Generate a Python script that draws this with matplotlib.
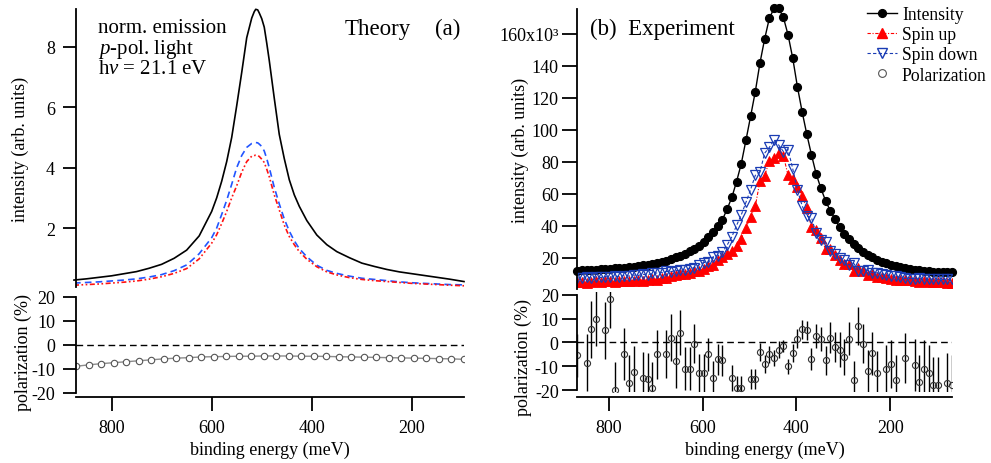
import numpy as np
import matplotlib.pyplot as plt
from matplotlib.lines import Line2D

plt.rcParams['font.family'] = ['Liberation Serif', 'DejaVu Serif']
plt.rcParams['axes.unicode_minus'] = False
plt.rcParams['mathtext.fontset'] = 'custom'
plt.rcParams['mathtext.rm'] = 'Liberation Serif'
plt.rcParams['mathtext.it'] = 'Liberation Serif:italic'

nan = np.nan

# ---- theory (a) ----
theory_energy = [875, 850, 825, 800, 775, 750, 725, 700, 675, 650, 625, 600, 590, 580, 570,
                 560, 550, 540, 530, 520, 515, 512, 508, 505, 500, 495, 490, 485, 475, 465,
                 455, 445, 435, 425, 410, 390, 370, 350, 325, 300, 275, 250, 225, 200,
                 175, 150, 125, 96]
theory_total = [0.28, 0.32, 0.37, 0.42, 0.49, 0.56, 0.67, 0.80, 1.00, 1.27, 1.74, 2.55, 3.00, 3.55, 4.20,
                5.00, 6.05, 7.15, 8.30, 8.95, 9.16, 9.24, 9.22, 9.12, 8.93, 8.65, 8.12, 7.55, 6.30, 5.10,
                4.30, 3.60, 3.10, 2.72, 2.25, 1.77, 1.45, 1.22, 1.02, 0.84, 0.73, 0.63, 0.55, 0.49,
                0.43, 0.37, 0.31, 0.23]
theory_down = [0.18, 0.20, 0.22, 0.25, 0.28, 0.32, 0.38, 0.46, 0.59, 0.78, 1.15, 1.68, 2.00, 2.45, 2.92,
               3.45, 4.00, 4.40, 4.67, 4.80, 4.82, 4.83, 4.82, 4.78, 4.70, 4.55, 4.30, 4.00, 3.35, 2.80,
               2.30, 1.90, 1.58, 1.32, 1.05, 0.77, 0.60, 0.50, 0.41, 0.34, 0.30, 0.26, 0.22, 0.19,
               0.17, 0.15, 0.13, 0.12]
theory_up = [0.11, 0.13, 0.15, 0.18, 0.21, 0.25, 0.31, 0.39, 0.50, 0.66, 0.98, 1.50, 1.78, 2.15, 2.55,
             3.00, 3.40, 3.85, 4.20, 4.38, 4.40, 4.41, 4.40, 4.37, 4.28, 4.17, 3.95, 3.70, 3.10, 2.60,
             2.10, 1.72, 1.45, 1.22, 0.97, 0.72, 0.55, 0.45, 0.36, 0.30, 0.26, 0.23, 0.20, 0.17,
             0.15, 0.13, 0.11, 0.09]

theory_pol_energy = np.arange(871, 95, -25)
theory_pol = [-9.0, -8.4, -7.9, -7.5, -7.1, -6.7, -6.3, -5.9, -5.6, -5.4, -5.1, -5.0, -4.9, -4.8, -4.8, -4.7,
              -4.7, -4.7, -4.8, -4.8, -4.9, -5.0, -5.1, -5.2, -5.3, -5.4, -5.5, -5.6, -5.7, -5.8, -5.9, -6.1]

# ---- experiment (b) ----
exp_energy = np.arange(868, 67, -10)
intensity = [12.1, 12.2, 12.4, 12.5, 12.7, 12.9, 13.1, 13.3, 13.5, 13.8,
             14.0, 14.3, 14.6, 15.0, 15.4, 15.8, 16.3, 16.9, 17.6, 18.4,
             19.4, 20.4, 21.5, 22.7, 24.1, 25.6, 27.7, 30.2, 32.9, 36.0,
             39.8, 44.0, 50.6, 57.9, 67.7, 78.8, 93.5, 108.5, 123.9, 141.9,
             156.9, 169.8, 176.0, 176.0, 170.4, 159.4, 144.8, 126.9, 111.4, 97.3,
             84.4, 72.5, 63.6, 55.8, 49.6, 44.4, 39.2, 35.0, 31.9, 28.8,
             26.0, 23.5, 21.9, 20.4, 18.9, 17.7, 16.7, 15.6, 14.8, 14.2,
             13.6, 13.1, 12.7, 12.3, 11.9, 11.7, 11.5, 11.4, 11.3, 11.2, 11.2]
spin_up = [4.8, 5.2, 4.6, 5.0, 5.4, 4.9, 5.3, 5.6, 5.0, 5.5,
           5.9, 5.4, 5.8, 6.3, 5.9, 6.4, 6.8, 6.5, 7.2, 7.6,
           9.0, 9.4, 10.2, 10.1, 10.7, 12.0, 12.0, 13.1, 15.0, 15.3,
           18.5, 20.4, 22.5, 24.6, 27.4, 31.9, 38.8, 45.8, 52.3, 68.1,
           71.4, 80.7, 82.3, 85.4, 83.9, 71.7, 69.1, 64.4, 58.8, 51.1,
           39.2, 37.2, 32.3, 25.8, 25.3, 21.8, 19.0, 16.5, 16.2, 12.1,
           13.9, 11.7, 9.6, 9.7, 8.2, 7.8, 7.4, 7.1, 6.2, 6.3,
           6.4, 6.0, 5.7, 5.1, 5.3, 5.1, 4.7, 4.7, 4.7, 4.6, 4.6]
spin_down = [7.6, 7.2, 7.9, 7.5, 8.1, 7.8, 8.3, 7.9, 8.6, 8.4,
             9.0, 8.7, 9.3, 9.1, 9.8, 9.5, 10.3, 10.6, 10.8, 11.6,
             11.5, 12.0, 12.3, 12.6, 13.4, 13.9, 15.7, 17.1, 17.3, 20.7,
             21.3, 23.7, 28.1, 33.3, 40.3, 46.9, 54.7, 62.7, 71.6, 73.8,
             85.5, 89.1, 93.7, 90.6, 86.5, 87.7, 75.7, 62.5, 52.6, 46.2,
             45.2, 35.3, 31.3, 30.0, 24.3, 22.6, 20.2, 18.6, 15.7, 16.7,
             12.1, 11.8, 12.3, 10.7, 10.7, 9.9, 9.3, 8.5, 8.6, 7.9,
             7.2, 7.1, 7.0, 7.2, 6.6, 6.6, 6.8, 6.7, 6.6, 6.6, 6.6]
polarization = [-5.5, nan, -8.5, 5.5, 10, nan, 5, 18, -20, nan,
                -5, -17, -12.5, nan, -15, -15.5, -19, -5, nan, -5,
                2, -8, 4, -11, -11, -0.5, -13, -13, -5, -15,
                -7, -7.5, nan, -15, -19, -19, nan, -15.5, -15.5, -4,
                -9, -5, -6.5, -3, -1.5, -10, -4.5, 1.5, 5.5, 5,
                -7, 2.5, 1.5, -7.5, 2, -2, -3, -6, 1.5, -16,
                7, -0.5, -12, -4.5, -13, nan, -11, -9, -16, nan,
                -6.5, nan, -9.5, -16.5, -11, -13, -18, -18, nan, -17, -18]
pol_error = [9, nan, 12, 12, 11.5, nan, 12, 12, 11.6, nan,
             11, 11.5, 11, nan, 11, 11, 10.6, 10.3, nan, 10,
             10, 11, 9.5, 9, 9, 8.3, 8, 8, 7, 7.3,
             6.5, 6.5, nan, 5.5, 5, 5, nan, 4.2, 4.2, 3.8,
             3.8, 3.6, 3.5, 3.5, 2.6, 3.2, 3.8, 4, 4, 4,
             4.5, 5, 5, 6, 6.5, 6.3, 7.3, 7.5, 7, 8,
             8, 8, 9, 9, 9.5, nan, 10, 10, 10.5, nan,
             10.5, nan, 11, 11, 12, 12, 12, 12, nan, 12.5, 12.5]

W, H = 991, 464


def box(x0, y0, x1, y1):
    # pixel box (from top-left) -> figure fraction
    return [x0 / W, 1 - y1 / H, (x1 - x0) / W, (y1 - y0) / H]


def style(ax, bottom=False, offset=0, ylen=10, ypad=4):
    ax.patch.set_visible(False)
    ax.spines['top'].set_visible(False)
    ax.spines['right'].set_visible(False)
    ax.spines['left'].set_linewidth(1.3)
    if bottom:
        ax.spines['bottom'].set_linewidth(1.3)
        ax.spines['bottom'].set_position(('outward', offset))
        ax.tick_params(axis='x', direction='out', length=10, width=1.3, labelsize=13, pad=5.5)
    else:
        ax.spines['bottom'].set_visible(False)
        ax.tick_params(axis='x', bottom=False, labelbottom=False)
    ax.tick_params(axis='y', direction='out', length=ylen, width=1.3, labelsize=13, pad=ypad)


fig = plt.figure(figsize=(9.91, 4.64), dpi=100)
ax_a = fig.add_axes(box(76, 10, 464, 288))
ax_ap = fig.add_axes(box(76, 294.1, 464, 397.3))
ax_b = fig.add_axes(box(577.3, 10, 952, 290))
ax_bp = fig.add_axes(box(577.3, 293.3, 952, 393.4))

# theory intensity
ax_a.plot(theory_energy, theory_total, color='black', lw=1.2, clip_on=False)
ax_a.plot(theory_energy, theory_down, color='#2255ff', lw=1.2, dashes=(4, 2.5))
ax_a.plot(theory_energy, theory_up, color='#ff1111', lw=1.2, dashes=(3, 1.5, 1, 1.5, 1, 1.5))
ax_a.set_xlim(871, 96)
ax_a.set_ylim(0.05, 9.25)
ax_a.set_yticks([2, 4, 6, 8])
style(ax_a, ylen=9.6, ypad=5.5)
fig.text(98 / W, 1 - 33 / H, 'norm. emission', fontsize=15, va='baseline')
fig.text(98 / W, 1 - 54 / H, '$p$-pol. light', fontsize=15, va='baseline')
fig.text(98 / W, 1 - 74 / H, r'h$\mathit{\nu}$ = 21.1 eV', fontsize=15, va='baseline')
fig.text(345 / W, 1 - 35 / H, 'Theory', fontsize=16.5, va='baseline')
fig.text(435 / W, 1 - 35 / H, '(a)', fontsize=16.5, va='baseline')

# theory polarization
ax_ap.axhline(0, color='black', lw=1, dashes=(4.8, 2.9))
ax_ap.plot(theory_pol_energy, theory_pol, color='#8c8c8c', lw=1, marker='o', ms=4.6,
           mfc='white', mec='#555555', mew=0.8)
ax_ap.set_xlim(871, 96)
ax_ap.set_ylim(-21.5, 21.5)
ax_ap.set_yticks([-20, -10, 0, 10, 20])
ax_ap.set_xticks([800, 600, 400, 200])
ax_ap.spines['left'].set_bounds(-20, 20)
style(ax_ap, bottom=True, offset=0.8, ylen=9.6, ypad=5.5)

# experiment intensity
ax_b.plot(exp_energy, intensity, color='black', lw=1, marker='o', ms=5.6, mfc='black', mec='black',
          clip_on=False)
ax_b.plot(exp_energy, spin_up, color='red', lw=0.8, dashes=(3, 1.5, 1, 1.5), marker='^', ms=7.5,
          mfc='red', mec='red', mew=0.6)
ax_b.plot(exp_energy, spin_down, color='#1a3cb4', lw=0.8, dashes=(3, 2), marker='v', ms=7.5,
          mfc='none', mec='#1a3cb4', mew=0.9)
ax_b.set_xlim(868, 68)
ax_b.set_ylim(0.6, 175.6)
ax_b.set_yticks([20, 40, 60, 80, 100, 120, 140, 160])
ax_b.set_yticklabels(['20', '40', '60', '80', '100', '120', '140', '160x10\u00b3'])
style(ax_b, ylen=11, ypad=2.4)
fig.text(590 / W, 1 - 35 / H, '(b)  Experiment', fontsize=16.5, va='baseline')

# experiment polarization
ax_bp.axhline(0, color='black', lw=1, dashes=(4.8, 2.9))
ax_bp.errorbar(exp_energy, polarization, yerr=pol_error, fmt='o', ms=4.4, mfc='none', mec='#333333',
               mew=0.8, ecolor='black', elinewidth=1, capsize=0)
ax_bp.set_xlim(868, 68)
ax_bp.set_ylim(-21, 21)
ax_bp.set_yticks([-20, -10, 0, 10, 20])
ax_bp.set_xticks([800, 600, 400, 200])
ax_bp.spines['left'].set_bounds(-20, 20)
style(ax_bp, bottom=True, offset=3.3, ylen=11, ypad=2.4)

# axis labels
fig.text(20 / W, 1 - 149.5 / H, 'intensity (arb. units)', rotation=90, ha='center', va='center', fontsize=13)
fig.text(23 / W, 1 - 352.5 / H, 'polarization (%)', rotation=90, ha='center', va='center', fontsize=13)
fig.text(520 / W, 1 - 150 / H, 'intensity (arb. units)', rotation=90, ha='center', va='center', fontsize=13)
fig.text(523 / W, 1 - 358 / H, 'polarization (%)', rotation=90, ha='center', va='center', fontsize=13)
fig.text(270 / W, 1 - 450 / H, 'binding energy (meV)', ha='center', va='center', fontsize=13)
fig.text(764.5 / W, 1 - 450 / H, 'binding energy (meV)', ha='center', va='center', fontsize=13)

# legend
handles = [
    Line2D([], [], color='black', lw=1, marker='o', ms=5.6, mfc='black'),
    Line2D([], [], color='red', lw=0.8, dashes=(3, 1.5, 1, 1.5), marker='^', ms=6.5, mfc='red', mec='red'),
    Line2D([], [], color='#1a3cb4', lw=0.8, dashes=(3, 2), marker='v', ms=6.5, mfc='none', mec='#1a3cb4'),
    Line2D([], [], ls='none', marker='o', ms=5.6, mfc='none', mec='#555555', mew=0.8),
]
fig.legend(handles, ['Intensity', 'Spin up', 'Spin down', 'Polarization'], loc='upper left',
           bbox_to_anchor=(866.7 / W, 1 - 7 / H), frameon=False, fontsize=12.7, handlelength=1.7,
           handletextpad=0.3, labelspacing=0.18, borderpad=0, borderaxespad=0, numpoints=1)

fig.savefig('out.png', dpi=100)
